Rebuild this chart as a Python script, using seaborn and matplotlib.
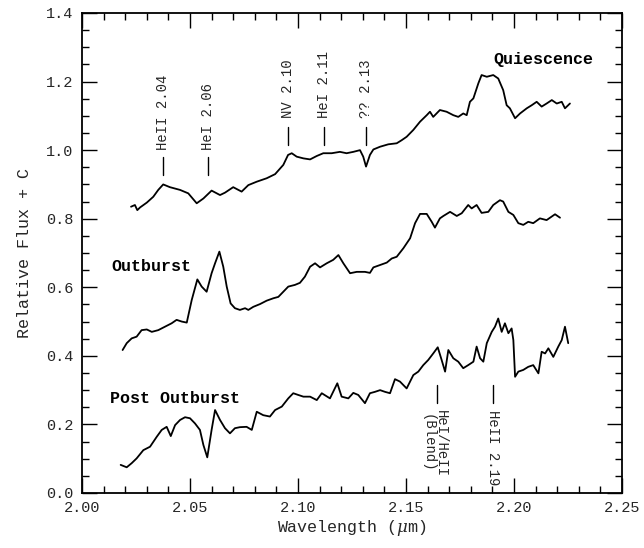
import matplotlib
matplotlib.use("Agg")
import matplotlib.pyplot as plt
import seaborn as sns
import pandas as pd
from matplotlib.ticker import MultipleLocator

# ---------------- data ----------------
quies_wl = [2.0227, 2.0245, 2.0256, 2.0269, 2.0300, 2.0330, 2.0353, 2.0376, 2.0407, 2.0454,
            2.0492, 2.0531, 2.0562, 2.0600, 2.0639, 2.0662, 2.0700, 2.0739, 2.0770, 2.0809,
            2.0855, 2.0894, 2.0932, 2.0954, 2.0971, 2.0994, 2.1025, 2.1056, 2.1087, 2.1117,
            2.1156, 2.1194, 2.1225, 2.1256, 2.1287, 2.1302, 2.1315, 2.1333, 2.1349, 2.1380,
            2.1418, 2.1457, 2.1480, 2.1503, 2.1534, 2.1565, 2.1596, 2.1611, 2.1626, 2.1657,
            2.1688, 2.1719, 2.1742, 2.1765, 2.1781, 2.1796, 2.1812, 2.1835, 2.1850, 2.1874,
            2.1904, 2.1927, 2.1950, 2.1966, 2.1981, 2.2005, 2.2028, 2.2059, 2.2082, 2.2105,
            2.2128, 2.2151, 2.2175, 2.2198, 2.2221, 2.2236, 2.2259]
quies_flux = [0.835, 0.840, 0.825, 0.833, 0.847, 0.864, 0.884, 0.900, 0.892, 0.884,
              0.874, 0.845, 0.859, 0.882, 0.869, 0.876, 0.892, 0.879, 0.898, 0.908,
              0.918, 0.930, 0.957, 0.986, 0.991, 0.981, 0.976, 0.973, 0.983, 0.991,
              0.991, 0.995, 0.991, 0.995, 1.000, 0.981, 0.952, 0.986, 1.002, 1.010,
              1.017, 1.020, 1.029, 1.039, 1.059, 1.083, 1.102, 1.112, 1.097, 1.117,
              1.112, 1.102, 1.097, 1.107, 1.102, 1.141, 1.151, 1.195, 1.219, 1.214,
              1.219, 1.209, 1.175, 1.131, 1.122, 1.093, 1.107, 1.122, 1.131, 1.141,
              1.127, 1.136, 1.146, 1.136, 1.141, 1.122, 1.136]

outb_wl = [2.0188, 2.0207, 2.0230, 2.0253, 2.0276, 2.0300, 2.0323, 2.0353, 2.0384, 2.0415,
           2.0438, 2.0462, 2.0485, 2.0508, 2.0534, 2.0554, 2.0577, 2.0600, 2.0616, 2.0636,
           2.0654, 2.0670, 2.0688, 2.0708, 2.0731, 2.0755, 2.0770, 2.0793, 2.0824, 2.0855,
           2.0886, 2.0909, 2.0932, 2.0955, 2.0986, 2.1009, 2.1032, 2.1056, 2.1079, 2.1102,
           2.1133, 2.1163, 2.1187, 2.1210, 2.1241, 2.1272, 2.1310, 2.1333, 2.1349, 2.1380,
           2.1411, 2.1434, 2.1457, 2.1488, 2.1519, 2.1542, 2.1565, 2.1596, 2.1619, 2.1634,
           2.1657, 2.1673, 2.1704, 2.1735, 2.1758, 2.1788, 2.1804, 2.1827, 2.1850, 2.1881,
           2.1904, 2.1935, 2.1950, 2.1974, 2.1997, 2.2020, 2.2043, 2.2066, 2.2089, 2.2120,
           2.2151, 2.2190, 2.2213]
outb_flux = [0.417, 0.437, 0.451, 0.456, 0.475, 0.477, 0.470, 0.475, 0.485, 0.495,
             0.505, 0.500, 0.497, 0.563, 0.623, 0.602, 0.587, 0.641, 0.670, 0.704,
             0.660, 0.602, 0.553, 0.539, 0.534, 0.539, 0.534, 0.543, 0.551, 0.561,
             0.568, 0.572, 0.587, 0.602, 0.607, 0.613, 0.631, 0.660, 0.670, 0.658,
             0.670, 0.680, 0.694, 0.670, 0.641, 0.645, 0.645, 0.642, 0.658, 0.665,
             0.672, 0.684, 0.689, 0.714, 0.743, 0.787, 0.814, 0.814, 0.791, 0.774,
             0.801, 0.808, 0.820, 0.808, 0.816, 0.840, 0.830, 0.840, 0.817, 0.820,
             0.840, 0.854, 0.850, 0.820, 0.811, 0.787, 0.782, 0.791, 0.787, 0.801,
             0.796, 0.813, 0.803]

post_wl = [2.0179, 2.0207, 2.0230, 2.0253, 2.0284, 2.0315, 2.0346, 2.0369, 2.0392, 2.0411,
           2.0431, 2.0454, 2.0477, 2.0500, 2.0523, 2.0546, 2.0562, 2.0580, 2.0600, 2.0616,
           2.0639, 2.0662, 2.0685, 2.0708, 2.0731, 2.0762, 2.0786, 2.0809, 2.0839, 2.0870,
           2.0894, 2.0925, 2.0955, 2.0978, 2.1001, 2.1025, 2.1056, 2.1087, 2.1110, 2.1148,
           2.1182, 2.1202, 2.1233, 2.1256, 2.1279, 2.1310, 2.1333, 2.1356, 2.1380, 2.1403,
           2.1426, 2.1449, 2.1472, 2.1503, 2.1534, 2.1557, 2.1580, 2.1603, 2.1626, 2.1647,
           2.1665, 2.1681, 2.1696, 2.1719, 2.1742, 2.1765, 2.1788, 2.1812, 2.1827, 2.1843,
           2.1858, 2.1874, 2.1897, 2.1912, 2.1927, 2.1943, 2.1958, 2.1974, 2.1989, 2.1997,
           2.2005, 2.2020, 2.2043, 2.2066, 2.2089, 2.2113, 2.2128, 2.2144, 2.2159, 2.2182,
           2.2205, 2.2221, 2.2236, 2.2251]
post_flux = [0.082, 0.075, 0.087, 0.101, 0.125, 0.135, 0.164, 0.184, 0.193, 0.166,
             0.198, 0.213, 0.221, 0.218, 0.203, 0.184, 0.140, 0.104, 0.184, 0.242,
             0.213, 0.189, 0.174, 0.189, 0.192, 0.193, 0.184, 0.237, 0.227, 0.223,
             0.242, 0.252, 0.276, 0.291, 0.286, 0.281, 0.281, 0.271, 0.291, 0.276,
             0.320, 0.281, 0.276, 0.292, 0.286, 0.262, 0.291, 0.295, 0.300, 0.295,
             0.291, 0.332, 0.325, 0.305, 0.344, 0.354, 0.373, 0.388, 0.407, 0.425,
             0.388, 0.354, 0.417, 0.393, 0.383, 0.364, 0.373, 0.383, 0.427, 0.393,
             0.383, 0.437, 0.470, 0.485, 0.509, 0.470, 0.495, 0.466, 0.480, 0.446,
             0.339, 0.354, 0.359, 0.368, 0.373, 0.349, 0.412, 0.407, 0.422, 0.397,
             0.427, 0.446, 0.485, 0.437]

series_names = ["Quiescence", "Outburst", "Post Outburst"]
series_label_x = [2.1903, 2.0138, 2.0130]
series_label_y = [1.263, 0.660, 0.276]

# upper line identifications
top_line_labels = ["HeII 2.04", "HeI 2.06", "NV 2.10", "HeI 2.11", "?? 2.13"]
top_line_x = [2.0374, 2.0585, 2.0952, 2.1120, 2.1315]
top_line_y0 = [0.927, 0.927, 1.015, 1.015, 1.015]
top_line_y1 = [0.981, 0.981, 1.067, 1.067, 1.067]
top_text_y = [1.000, 1.000, 1.095, 1.095, 1.095]

# lower line identifications
bot_line_labels = ["HeI/HeII\n(Blend)", "HeII 2.19"]
bot_line_x = [2.1645, 2.1904]
bot_text_x = [2.1630, 2.1904]
bot_line_y0 = [0.262, 0.262]
bot_line_y1 = [0.315, 0.315]
bot_text_y = [0.242, 0.242]

x_ticks = [2.00, 2.05, 2.10, 2.15, 2.20, 2.25]
y_ticks = [0.0, 0.2, 0.4, 0.6, 0.8, 1.0, 1.2, 1.4]

# ---------------- style ----------------
sns.set_style("ticks")
FONT = ["Liberation Mono", "DejaVu Sans"]
plt.rcParams["font.family"] = FONT
plt.rcParams["mathtext.fontset"] = "dejavuserif"

df = pd.concat([
    pd.DataFrame({"wl": quies_wl, "flux": quies_flux, "state": series_names[0]}),
    pd.DataFrame({"wl": outb_wl, "flux": outb_flux, "state": series_names[1]}),
    pd.DataFrame({"wl": post_wl, "flux": post_flux, "state": series_names[2]}),
], ignore_index=True)

fig = plt.figure(figsize=(6.44, 5.48), dpi=100)
ax = fig.add_axes([82 / 644, 1 - 493 / 548, 540 / 644, 480 / 548])

sns.lineplot(data=df, x="wl", y="flux", hue="state", units="state",
             palette={n: "black" for n in series_names}, estimator=None,
             sort=False, linewidth=1.3, legend=False, ax=ax)

ax.set_xlim(2.00, 2.25)
ax.set_ylim(0.0, 1.4)
ax.set_xticks(x_ticks)
ax.set_yticks(y_ticks)
ax.set_xticklabels([f"{v:.2f}" for v in x_ticks])
ax.set_yticklabels([f"{v:.1f}" for v in y_ticks])
ax.xaxis.set_minor_locator(MultipleLocator(0.01))
ax.yaxis.set_minor_locator(MultipleLocator(0.05))
ax.tick_params(which="both", direction="in", top=True, right=True,
               color="black", width=1.0, labelsize=11, pad=6)
ax.tick_params(which="major", length=11)
ax.tick_params(which="minor", length=5)
for s in ax.spines.values():
    s.set_visible(True)
    s.set_linewidth(1.3)
    s.set_color("black")

ax.set_xlabel(r"Wavelength ($\mu$m)", fontsize=12, labelpad=2)
ax.set_ylabel("Relative Flux + C", fontsize=12, labelpad=10)

for name, lx, ly in zip(series_names, series_label_x, series_label_y):
    ax.text(lx, ly, name, fontsize=12, ha="left", va="center", color="black",
            fontweight="bold")

for lab, x, y0, y1, ty in zip(top_line_labels, top_line_x, top_line_y0, top_line_y1, top_text_y):
    ax.plot([x, x], [y0, y1], color="black", linewidth=1.0)
    ax.text(x, ty, lab, rotation=90, fontsize=10, ha="center", va="bottom")

for lab, x, tx, y0, y1, ty in zip(bot_line_labels, bot_line_x, bot_text_x, bot_line_y0, bot_line_y1, bot_text_y):
    ax.plot([x, x], [y0, y1], color="black", linewidth=1.0)
    ax.text(tx, ty, lab, rotation=270, fontsize=10, ha="center", va="top",
            linespacing=0.9)

fig.savefig("out.png", dpi=100)
